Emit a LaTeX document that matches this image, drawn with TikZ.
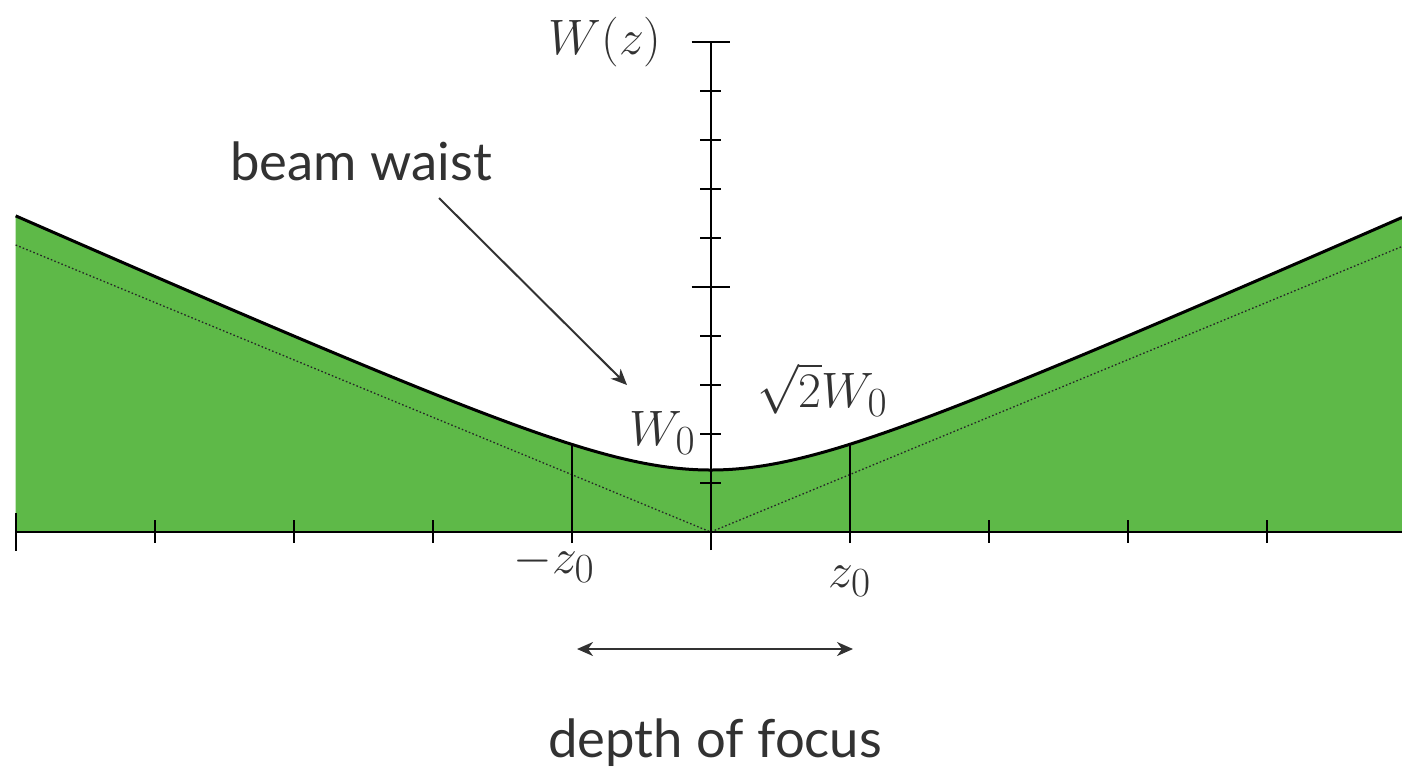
\documentclass[tikz,border=0pt]{standalone}
\usepackage{fontspec}
\newfontfamily\labelfont{Lato}
\renewcommand\defaultscriptratio{.76}
\usetikzlibrary{arrows.meta}
\definecolor{beamgreen}{RGB}{94,185,72}
\definecolor{inkgray}{RGB}{50,50,50}
\begin{document}
\begin{tikzpicture}[x=0.5pt,y=-0.5pt,
  axis/.style={line width=1.2pt,draw=black},
  tickmark/.style={line width=1.1pt,draw=black},
  beamline/.style={line width=1.5pt,draw=black},
  asym/.style={line width=0.65pt,draw=black!85,dash pattern=on 0.8pt off 1.1pt},
  pointer/.style={line width=1pt,draw=inkgray,-{Stealth[length=8pt,width=7pt,inset=2.5pt]}},
  twoway/.style={line width=1pt,draw=inkgray,{Stealth[length=8pt,width=7pt,inset=2.5pt]}-{Stealth[length=8pt,width=7pt,inset=2.5pt]}},
  mathlbl/.style={inner sep=0pt,text=inkgray,font=\fontsize{26.5}{31}\selectfont},
  sanslbl/.style={inner sep=0pt,text=inkgray,font=\labelfont\fontsize{26.3}{31}\selectfont}]

\useasboundingbox (0,0) rectangle (1402,773);

% beam profile
\fill[beamgreen] (15.7,532) -- plot[domain=15.7:1402,samples=300]
  (\x,{532-62*sqrt(1+((\x-710.7)/139)*((\x-710.7)/139))}) -- (1402,532) -- cycle;

% asymptotes
\draw[asym] (15.7,245) -- (710.7,532) -- (1402,246.5);

% beam edge
\draw[beamline] plot[domain=15.7:1402,samples=300]
  (\x,{532-62*sqrt(1+((\x-710.7)/139)*((\x-710.7)/139))});

% axes
\draw[axis] (15.7,532) -- (1402,532);
\draw[axis] (710.7,550) -- (710.7,42);

% z ticks
\foreach \k in {1,2,3,4,6,7,8,9}
  \draw[tickmark] ({15.7+139*\k},520) -- ({15.7+139*\k},543);
\draw[tickmark] (15.7,513) -- (15.7,551);

% W ticks
\foreach \k in {1,2,3,4,6,7,8,9}
  \draw[tickmark] (700.2,{532-49*\k}) -- (721.2,{532-49*\k});
\foreach \k in {5,10}
  \draw[tickmark] (691.7,{532-49*\k}) -- (729.7,{532-49*\k});

% depth of focus markers
\draw[tickmark] (571.7,543) -- (571.7,{532-62*sqrt(2)});
\draw[tickmark] (849.7,543) -- (849.7,{532-62*sqrt(2)});

% labels
\node[mathlbl,anchor=base east,font=\fontsize{28}{33}\selectfont] (wz) at (662,54) {$W(z)$};
\node[mathlbl,anchor=base east] (w0) at (696,445) {$W_0$};
\node[mathlbl,anchor=base west] (sw0) at (757,407) {$\sqrt{2}W_0$};
\node[mathlbl,anchor=base west] (mz0) at (513,573) {$-z_0$};
\node[mathlbl,anchor=base west] (pz0) at (828,587) {$z_0$};
\node[sanslbl,anchor=base west] (bw) at (230,180) {beam waist};
\node[sanslbl,anchor=base] (dof) at (715,757) {depth of focus};

% pointers
\coordinate (bwtail) at (439,198);
\coordinate (bwhead) at (627,385);
\draw[pointer] (bwtail) -- (bwhead);
\coordinate (dofL) at (577,649);
\coordinate (dofR) at (853,649);
\draw[twoway] (dofL) -- (dofR);
\end{tikzpicture}
\end{document}
